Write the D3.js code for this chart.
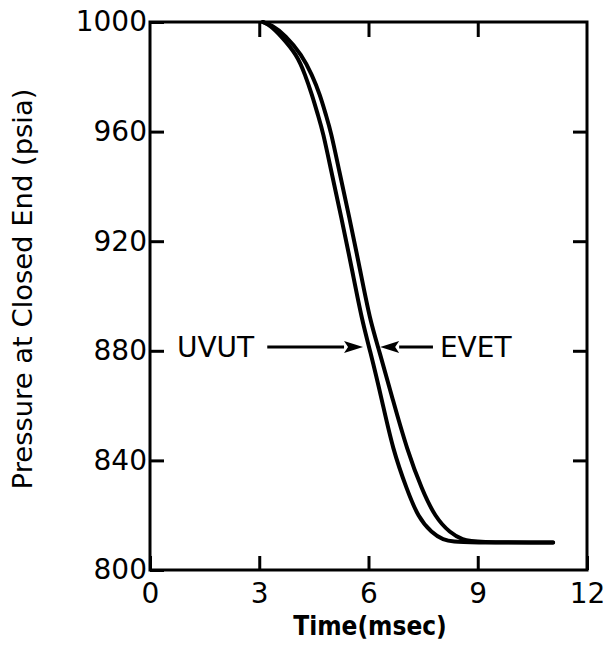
<!DOCTYPE html>
<html>
<head>
<meta charset="utf-8">
<script src="https://cdn.jsdelivr.net/npm/d3@7"></script>
<style>
  html, body { margin: 0; padding: 0; background: #fff; }
  svg { display: block; }
  text { font-family: "DejaVu Sans", sans-serif; fill: #000; }
</style>
</head>
<body>
<svg id="chart" width="604" height="645"></svg>
<script>
// ---- data ----
const xTicks = [0, 3, 6, 9, 12];
const yTicks = [800, 840, 880, 920, 960, 1000];
const innerXTicks = [3, 6, 9];
const innerYTicks = [840, 880, 920, 960];

const uvutTime =     [3.10, 3.30, 3.57, 4.04, 4.26, 4.45, 4.61, 4.75, 4.97, 5.27, 5.55, 5.82, 6.04, 6.37, 6.67, 7.06, 7.36, 7.74, 8.05, 8.35, 8.70, 11.07];
const uvutPressure = [1000, 998.8, 995.3, 988.0, 980.7, 973.4, 966.1, 959.9, 946.0, 927.7, 909.5, 891.2, 880.3, 862.0, 843.8, 829.2, 819.3, 813.5, 811.0, 810.3, 810.0, 810.0];

const evetTime =     [3.10, 3.35, 3.71, 4.17, 4.45, 4.67, 4.83, 4.97, 5.19, 5.49, 5.77, 6.04, 6.29, 6.67, 7.06, 7.47, 7.83, 8.24, 8.59, 8.90, 11.07];
const evetPressure = [1000, 998.8, 995.3, 988.0, 980.7, 973.4, 966.1, 959.9, 946.0, 927.7, 909.5, 891.2, 880.3, 862.0, 843.8, 829.2, 819.3, 813.5, 811.0, 810.1, 810.0];

const labels = ["UVUT", "EVET"];
const labelTime = [0.74, 7.96];
const arrowFrom = [3.22, 7.77];
const arrowTo = [5.85, 6.32];
const arrowPressure = 881.4;

// ---- layout ----
const svg = d3.select("#chart");
const L = 150, R = 587, T = 22, B = 570;
const x = d3.scaleLinear().domain([0, 12]).range([L, R]);
const y = d3.scaleLinear().domain([800, 1000]).range([B, T]);

// frame
svg.append("rect")
  .attr("x", L).attr("y", T).attr("width", R - L).attr("height", B - T)
  .attr("fill", "none").attr("stroke", "#000").attr("stroke-width", 3);

function styleAxis(g) {
  g.select(".domain").remove();
  g.selectAll(".tick line").attr("stroke", "#000").attr("stroke-width", 3);
  g.selectAll(".tick text").style("font-family", "'DejaVu Sans', sans-serif")
    .style("font-size", "28px").attr("fill", "#000");
}

// bottom axis
svg.append("g").attr("transform", `translate(0,${B})`)
  .call(d3.axisBottom(x).tickValues(xTicks).tickSizeInner(-14).tickSizeOuter(0).tickPadding(13).tickFormat(d3.format("d")))
  .call(styleAxis);
// left axis
svg.append("g").attr("transform", `translate(${L},0)`)
  .call(d3.axisLeft(y).tickValues(yTicks).tickSizeInner(-14).tickSizeOuter(0).tickPadding(3).tickFormat(d3.format("d")))
  .call(styleAxis);
// top axis (ticks only)
svg.append("g").attr("transform", `translate(0,${T})`)
  .call(d3.axisTop(x).tickValues(innerXTicks).tickSizeInner(-15).tickSizeOuter(0).tickFormat(""))
  .call(styleAxis);
// right axis (ticks only)
svg.append("g").attr("transform", `translate(${R},0)`)
  .call(d3.axisRight(y).tickValues(innerYTicks).tickSizeInner(-14).tickSizeOuter(0).tickFormat(""))
  .call(styleAxis);

// curves
const line = d3.line().x(d => x(d[0])).y(d => y(d[1])).curve(d3.curveBasis);
const series = [
  d3.zip(uvutTime, uvutPressure),
  d3.zip(evetTime, evetPressure)
];
svg.selectAll("path.curve").data(series).join("path")
  .attr("class", "curve")
  .attr("d", line)
  .attr("fill", "none").attr("stroke", "#000").attr("stroke-width", 4)
  .attr("stroke-linejoin", "round").attr("stroke-linecap", "round");

// annotations
const yA = y(arrowPressure);
labels.forEach((lab, i) => {
  svg.append("text").attr("x", x(labelTime[i])).attr("y", yA).attr("dy", "0.36em")
    .style("font-size", "28px").text(lab);
  const x0 = x(arrowFrom[i]), x1 = x(arrowTo[i]);
  const dir = Math.sign(x1 - x0);
  const headLen = 19, headHalf = 6;
  svg.append("line").attr("x1", x0).attr("y1", yA).attr("x2", x1 - dir * headLen).attr("y2", yA)
    .attr("stroke", "#000").attr("stroke-width", 3);
  svg.append("path")
    .attr("d", `M${x1},${yA} L${x1 - dir * headLen},${yA - headHalf} L${x1 - dir * (headLen - 4)},${yA} L${x1 - dir * headLen},${yA + headHalf} Z`)
    .attr("fill", "#000");
});

// axis titles
svg.append("text").attr("x", 370).attr("y", 635).attr("text-anchor", "middle")
  .style("font-family", "'DejaVu Sans Condensed', 'DejaVu Sans', sans-serif")
  .style("font-size", "26px").style("font-weight", "bold").text("Time(msec)");
svg.append("text").attr("transform", "translate(32,289) rotate(-90)").attr("text-anchor", "middle")
  .style("font-size", "27.4px").text("Pressure at Closed End (psia)");
</script>
</body>
</html>
